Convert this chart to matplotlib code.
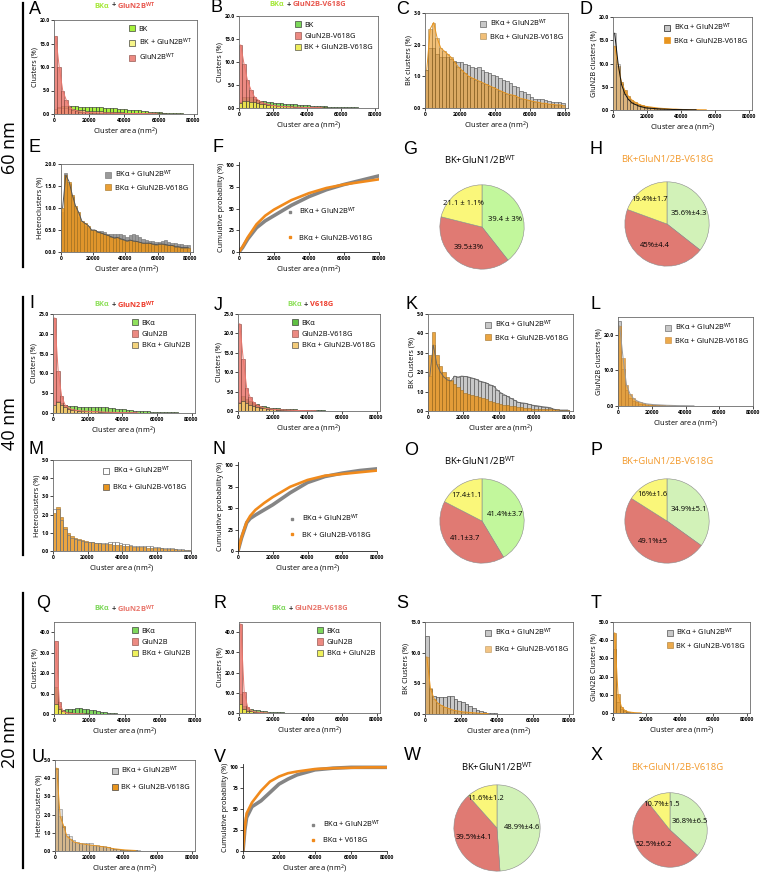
import numpy as np
import matplotlib
matplotlib.use("Agg")
import matplotlib.pyplot as plt
from matplotlib.lines import Line2D

plt.rcParams['font.family'] = ['Open Sans', 'DejaVu Sans']
plt.rcParams['mathtext.default'] = 'regular'

W, H = 763, 877

# ---------------- data (bin width 2000 nm^2, starting at 0) ----------------
edges = np.arange(0, 80000, 2000)

# 60 nm
a_bk = [0.8, 1.5, 1.8, 1.8, 1.7, 1.6, 1.6, 1.5, 1.5, 1.5, 1.5, 1.45, 1.4, 1.4, 1.3, 1.3, 1.2, 1.2, 1.1, 1.0,
        1.0, 0.9, 0.9, 0.8, 0.75, 0.7, 0.6, 0.5, 0.45, 0.4, 0.35, 0.3, 0.25, 0.2, 0.2, 0.15, 0.15, 0.1, 0.1, 0.1]
a_glun = [16.5, 10.0, 5.0, 3.0, 1.4, 0.9, 0.7, 0.5, 0.4, 0.35, 0.3, 0.3, 0.25, 0.25, 0.2, 0.2, 0.2, 0.15, 0.15,
          0.15, 0.1, 0.1, 0.1, 0.1, 0.1, 0.1, 0.08, 0.08, 0.05, 0.05]
a_het = [1.0, 1.2, 1.3, 1.2, 1.1, 1.0, 0.9, 0.8, 0.8, 0.7, 0.7, 0.6, 0.6, 0.55, 0.5, 0.5, 0.45, 0.4, 0.4, 0.35,
         0.3, 0.3, 0.3, 0.25, 0.25, 0.2, 0.2, 0.2, 0.15, 0.15, 0.12, 0.12, 0.1, 0.1, 0.08, 0.08, 0.06, 0.06, 0.05, 0.05]

b_bk = [1.2, 2.3, 2.5, 2.3, 2.0, 1.8, 1.6, 1.5, 1.3, 1.2, 1.1, 1.0, 1.0, 0.9, 0.9, 0.8, 0.8, 0.7, 0.7, 0.6,
        0.6, 0.5, 0.5, 0.45, 0.4, 0.35, 0.3, 0.3, 0.25, 0.2, 0.2, 0.18, 0.15, 0.15, 0.12, 0.1, 0.1, 0.1, 0.08, 0.08]
b_glun = [13.7, 9.5, 6.0, 4.0, 2.5, 1.8, 1.3, 1.0, 0.8, 0.6, 0.5, 0.4, 0.35, 0.3, 0.25, 0.2, 0.2, 0.15, 0.15,
          0.1, 0.1, 0.1, 0.08, 0.08, 0.05]
b_het = [1.0, 1.5, 1.6, 1.4, 1.2, 1.0, 0.9, 0.8, 0.7, 0.6, 0.6, 0.5, 0.5, 0.45, 0.4, 0.35, 0.3, 0.3, 0.25, 0.25,
         0.2, 0.2, 0.18, 0.15, 0.15, 0.12, 0.1, 0.1, 0.08, 0.08]

c_wt = [1.2, 1.9, 1.9, 1.7, 1.6, 1.6, 1.6, 1.55, 1.5, 1.45, 1.45, 1.4, 1.35, 1.3, 1.25, 1.3, 1.2, 1.15, 1.1, 1.05,
        1.0, 0.95, 0.9, 0.85, 0.8, 0.7, 0.65, 0.55, 0.5, 0.45, 0.35, 0.3, 0.3, 0.28, 0.25, 0.22, 0.2, 0.2, 0.18, 0.15]
c_mut = [1.2, 2.5, 2.7, 2.2, 1.9, 1.8, 1.7, 1.6, 1.45, 1.3, 1.2, 1.1, 1.0, 0.95, 0.9, 0.85, 0.8, 0.75, 0.7, 0.65,
         0.6, 0.55, 0.5, 0.45, 0.42, 0.4, 0.35, 0.3, 0.28, 0.25, 0.22, 0.2, 0.18, 0.15, 0.15, 0.12, 0.12, 0.1, 0.1, 0.08]

d_wt = [16.5, 10.0, 5.5, 3.5, 2.3, 1.6, 1.2, 0.9, 0.7, 0.5, 0.4, 0.35, 0.3, 0.25, 0.2, 0.18, 0.15, 0.12, 0.1, 0.1,
        0.08, 0.08, 0.06, 0.05, 0.05]
d_mut = [13.7, 9.5, 6.0, 4.2, 3.0, 2.2, 1.7, 1.3, 1.0, 0.8, 0.7, 0.6, 0.5, 0.4, 0.35, 0.3, 0.25, 0.2, 0.2, 0.15,
         0.12, 0.1, 0.1, 0.08, 0.08, 0.06, 0.05, 0.05]

e_wt = [0.9, 1.8, 1.55, 1.25, 1.0, 0.8, 0.65, 0.6, 0.55, 0.5, 0.5, 0.48, 0.47, 0.45, 0.42, 0.42, 0.4, 0.42, 0.4, 0.38,
        0.35, 0.38, 0.4, 0.38, 0.35, 0.3, 0.28, 0.25, 0.25, 0.22, 0.22, 0.25, 0.27, 0.22, 0.2, 0.2, 0.18, 0.18, 0.15, 0.15]
e_mut = [1.0, 1.75, 1.6, 1.3, 1.05, 0.9, 0.7, 0.65, 0.6, 0.5, 0.5, 0.45, 0.43, 0.4, 0.38, 0.35, 0.32, 0.33, 0.3, 0.28,
         0.25, 0.27, 0.25, 0.24, 0.22, 0.2, 0.2, 0.2, 0.18, 0.17, 0.18, 0.18, 0.17, 0.15, 0.15, 0.12, 0.12, 0.1, 0.1, 0.1]

f_x = [0, 2000, 5000, 10000, 15000, 20000, 30000, 40000, 50000, 60000, 70000, 80000]
f_wt = [0, 5, 15, 28, 36, 42, 54, 64, 72, 78, 83, 88]
f_mut = [0, 6, 17, 32, 42, 49, 60, 68, 74, 78, 81, 84]

g_vals = [39.4, 39.5, 21.1]
g_labels = ['39.4 ± 3%', '39.5±3%', '21.1 ± 1.1%']
h_vals = [35.6, 45.0, 19.4]
h_labels = ['35.6%±4.3', '45%±4.4', '19.4%±1.7']

# 40 nm
i_bk = [1.5, 3.0, 2.5, 2.0, 1.8, 1.7, 1.7, 1.6, 1.6, 1.6, 1.6, 1.5, 1.5, 1.5, 1.4, 1.4, 1.3, 1.2, 1.1, 1.0,
        0.9, 0.8, 0.7, 0.6, 0.55, 0.5, 0.45, 0.4, 0.35, 0.3, 0.3, 0.25, 0.2, 0.2, 0.15, 0.15, 0.1, 0.1, 0.1, 0.1]
i_glun = [24.0, 10.5, 4.2, 2.0, 1.3, 0.9, 0.7, 0.6, 0.5, 0.45, 0.4, 0.35, 0.3, 0.3, 0.25, 0.2, 0.2, 0.15, 0.15,
          0.1, 0.1, 0.1, 0.08, 0.08, 0.05]
i_het = [2.0, 2.8, 2.0, 1.4, 1.0, 0.8, 0.7, 0.6, 0.55, 0.5, 0.45, 0.4, 0.4, 0.35, 0.35, 0.3, 0.3, 0.25, 0.25, 0.2,
         0.2, 0.18, 0.15, 0.15, 0.12, 0.1, 0.1, 0.08, 0.08, 0.06]

j_bk = [2.3, 3.8, 3.2, 2.5, 2.0, 1.7, 1.4, 1.2, 1.0, 0.9, 0.8, 0.7, 0.6, 0.55, 0.5, 0.45, 0.4, 0.35, 0.3, 0.3,
        0.25, 0.22, 0.2, 0.18, 0.15, 0.12, 0.1, 0.1, 0.08, 0.08]
j_glun = [22.5, 13.5, 6.0, 3.5, 2.2, 1.5, 1.1, 0.8, 0.6, 0.5, 0.4, 0.35, 0.3, 0.25, 0.2, 0.18, 0.15, 0.12, 0.1,
          0.1, 0.08, 0.06, 0.05]
j_het = [2.0, 2.5, 2.0, 1.6, 1.3, 1.0, 0.8, 0.7, 0.6, 0.5, 0.4, 0.35, 0.3, 0.28, 0.25, 0.2, 0.18, 0.15, 0.12,
         0.1, 0.1, 0.08, 0.06, 0.05]

k_wt = [1.8, 3.4, 2.4, 2.0, 1.75, 1.6, 1.55, 1.8, 1.75, 1.8, 1.78, 1.75, 1.7, 1.65, 1.55, 1.5, 1.45, 1.35, 1.3, 1.1,
        0.95, 0.85, 0.75, 0.65, 0.55, 0.45, 0.42, 0.4, 0.35, 0.3, 0.28, 0.25, 0.22, 0.2, 0.18, 0.1, 0.06, 0.05, 0.05, 0.05]
k_mut = [2.9, 4.05, 2.9, 2.3, 2.0, 1.75, 1.6, 1.4, 1.25, 1.1, 0.95, 0.9, 0.85, 0.75, 0.7, 0.65, 0.6, 0.5, 0.45, 0.4,
         0.35, 0.3, 0.3, 0.25, 0.25, 0.2, 0.2, 0.18, 0.15, 0.12, 0.12, 0.1, 0.1, 0.08, 0.08, 0.08, 0.08, 0.06, 0.06, 0.06]

l_wt = [24.0, 10.5, 4.5, 2.2, 1.4, 1.0, 0.7, 0.5, 0.4, 0.3, 0.25, 0.2, 0.18, 0.15, 0.12, 0.1, 0.1, 0.08, 0.06, 0.05]
l_mut = [22.5, 13.5, 6.0, 3.5, 2.2, 1.5, 1.1, 0.8, 0.6, 0.5, 0.4, 0.35, 0.3, 0.25, 0.2, 0.18, 0.15, 0.12, 0.1,
         0.1, 0.08, 0.06, 0.05]

m_wt = [2.3, 2.3, 1.7, 1.2, 0.9, 0.7, 0.65, 0.6, 0.55, 0.5, 0.5, 0.48, 0.45, 0.45, 0.45, 0.45, 0.5, 0.5, 0.48, 0.45,
        0.4, 0.38, 0.35, 0.3, 0.28, 0.28, 0.3, 0.28, 0.25, 0.22, 0.2, 0.18, 0.18, 0.16, 0.15, 0.12, 0.12, 0.1, 0.08, 0.06]
m_mut = [2.1, 2.4, 1.85, 1.3, 1.0, 0.8, 0.7, 0.65, 0.6, 0.55, 0.52, 0.48, 0.45, 0.42, 0.4, 0.38, 0.38, 0.35, 0.33,
         0.32, 0.3, 0.28, 0.25, 0.23, 0.22, 0.2, 0.2, 0.18, 0.17, 0.16, 0.15, 0.14, 0.13, 0.12, 0.1, 0.1, 0.08, 0.08,
         0.07, 0.06]

n_x = [0, 2000, 5000, 7000, 10000, 15000, 20000, 30000, 40000, 50000, 60000, 70000, 80000]
n_wt = [0, 15, 33, 38, 42, 48, 54, 68, 80, 87, 91, 94, 96]
n_mut = [0, 16, 34, 41, 48, 56, 63, 75, 83, 88, 90, 92, 94]

o_vals = [41.4, 41.1, 17.4]
o_labels = ['41.4%±3.7', '41.1±3.7', '17.4±1.1']
p_vals = [34.9, 49.1, 16.0]
p_labels = ['34.9%±5.1', '49.1%±5', '16%±1.6']

# 20 nm
q_bk = [13.0, 4.0, 2.2, 2.3, 2.5, 2.6, 2.7, 2.7, 2.6, 2.4, 2.2, 1.9, 1.6, 1.2, 0.9, 0.6, 0.4, 0.3, 0.2, 0.1, 0.08, 0.05]
q_glun = [35.5, 6.0, 1.5, 0.6, 0.3, 0.2, 0.1, 0.1, 0.05]
q_het = [5.0, 2.5, 1.5, 1.0, 0.8, 0.6, 0.5, 0.4, 0.3, 0.3, 0.2, 0.2, 0.15, 0.1, 0.1, 0.05]

r_bk = [9.5, 3.5, 2.5, 2.0, 1.6, 1.3, 1.0, 0.8, 0.6, 0.5, 0.4, 0.3, 0.25, 0.2, 0.15, 0.1, 0.08, 0.05]
r_glun = [44.0, 10.5, 3.0, 1.2, 0.6, 0.4, 0.2, 0.1, 0.05]
r_het = [4.5, 2.0, 1.2, 0.8, 0.5, 0.3, 0.2, 0.15, 0.1, 0.05]

s_wt = [12.7, 4.0, 3.0, 2.8, 2.8, 2.8, 3.0, 2.9, 2.5, 2.2, 2.0, 1.6, 1.3, 1.0, 0.7, 0.5, 0.3, 0.2, 0.1, 0.1, 0.05]
s_mut = [9.3, 4.2, 2.5, 1.8, 1.4, 1.1, 0.9, 0.7, 0.55, 0.45, 0.35, 0.3, 0.25, 0.2, 0.15, 0.1, 0.1, 0.05]

t_wt = [35.0, 6.0, 2.0, 1.0, 0.5, 0.2, 0.1, 0.05]
t_mut = [44.0, 10.5, 3.5, 1.5, 0.7, 0.4, 0.2, 0.1, 0.05]

u_wt = [4.5, 2.3, 1.3, 0.95, 0.8, 0.6, 0.5, 0.45, 0.45, 0.42, 0.45, 0.35, 0.35, 0.3, 0.25, 0.2, 0.15, 0.12, 0.1,
        0.08, 0.06, 0.05, 0.04, 0.03, 0.03]
u_mut = [4.55, 1.9, 1.4, 0.8, 0.65, 0.5, 0.45, 0.4, 0.38, 0.35, 0.32, 0.3, 0.28, 0.25, 0.22, 0.2, 0.15, 0.12, 0.1,
         0.08, 0.06, 0.05, 0.04, 0.03]

v_x = [0, 1000, 2000, 5000, 10000, 15000, 20000, 25000, 30000, 40000, 50000, 60000, 70000, 80000]
v_wt = [0, 25, 40, 53, 60, 70, 80, 86, 91, 97, 99, 100, 100, 100]
v_mut = [0, 28, 45, 58, 72, 83, 89, 93, 95, 98, 99, 99.5, 100, 100]

w_vals = [48.9, 39.5, 11.6]
w_labels = ['48.9%±4.6', '39.5%±4.1', '11.6%±1.2']
x_vals = [36.8, 52.5, 10.7]
x_labels = ['36.8%±6.5', '52.5%±6.2', '10.7%±1.5']

# ---------------- colours ----------------
GRAY = '#C8C8C8'
ORANGE = '#E8951F'
RED = '#E9766C'
WT_SUP = 'GluN2B$^{WT}$'

fig = plt.figure(figsize=(W / 100, H / 100), dpi=100)


def px_axes(l, t, r, b):
    return fig.add_axes([l / W, 1 - b / H, (r - l) / W, (b - t) / H])


def style(ax, ylabel, yticks, ylim, fmt='%.1f', box=True, ylabels=None, xmax=82000):
    ax.set_xlim(0, xmax)
    ax.set_ylim(*ylim)
    ax.set_xticks([0, 20000, 40000, 60000, 80000])
    ax.set_yticks(yticks)
    if ylabels is None:
        ylabels = [fmt % v for v in yticks]
    ax.set_yticklabels(ylabels)
    ax.tick_params(labelsize=3.7, length=2, width=0.5, pad=1)
    for lab in ax.get_xticklabels() + ax.get_yticklabels():
        lab.set_fontweight('bold')
    ax.set_xlabel('Cluster area (nm$^2$)', fontsize=5.4, labelpad=1.5)
    ax.set_ylabel(ylabel, fontsize=5.2, labelpad=1)
    for s in ax.spines.values():
        s.set_linewidth(0.6)
        s.set_color('#6a6a6a')
    if not box:
        ax.spines['top'].set_visible(False)
        ax.spines['right'].set_visible(False)
        for s in ('left', 'bottom'):
            ax.spines[s].set_color('#222222')


def bars(ax, vals, color, label, alpha=1.0, edge='#333333', line=None, fill=True):
    ax.bar(edges[:len(vals)], vals, width=2000, align='edge',
           color=color if fill else 'none', edgecolor=edge, linewidth=0.45,
           alpha=alpha, label=label)
    if line:
        ax.plot(edges[:len(vals)] + 1000, vals, color=line, lw=0.7)


LEG = dict(frameon=False, fontsize=5.3, handlelength=0.8, handleheight=0.9,
           handletextpad=0.5, borderaxespad=0.3)


def legend(ax, **kw):
    ax.legend(loc='upper right', **LEG, **kw)


def cum_panel(ax, xs, wt, mut, lab_wt, lab_mut, anchor, spacing):
    ax.plot(xs, wt, color='#858585', lw=2.6, solid_capstyle='round')
    ax.plot(xs, mut, color='#F08A1C', lw=1.9, solid_capstyle='round')
    style(ax, 'Cumulative probability (%)', [0, 25, 50, 75, 100], (0, 104), fmt='%d', box=False, xmax=80000)
    h = [Line2D([], [], ls='', marker='s', ms=2, color='#858585'),
         Line2D([], [], ls='', marker='s', ms=2, color='#F08A1C')]
    ax.legend(h, [lab_wt, lab_mut], loc='lower right', bbox_to_anchor=anchor, frameon=False,
              fontsize=5.3, handletextpad=0.3, labelspacing=spacing)


def pie_panel(cx, cy, r, vals, labels, colors):
    ax = px_axes(cx - r, cy - r, cx + r, cy + r)
    wedges, _ = ax.pie(vals, colors=colors, startangle=90, counterclock=False,
                       wedgeprops=dict(edgecolor='#8a8a8a', linewidth=0.4))
    for w, lab, v in zip(wedges, labels, vals):
        ang = np.deg2rad((w.theta1 + w.theta2) / 2)
        rr = 0.72 if v < 25 else 0.58
        ax.text(rr * np.cos(ang), rr * np.sin(ang), lab, ha='center', va='center', fontsize=5.5)
    ax.set_xlim(-1.02, 1.02)
    ax.set_ylim(-1.02, 1.02)
    return ax


renderer = fig.canvas.get_renderer()


def multi_title(x, y, parts, size=5.4, gap=2.0):
    texts = []
    widths = []
    for s, c in parts:
        t = fig.text(0, 1 - y / H, s, color=c, fontsize=size, fontweight='bold', va='center')
        texts.append(t)
        widths.append(t.get_window_extent(renderer).width)
    total = sum(widths) + gap * (len(parts) - 1)
    pos = x - total / 2
    for t, w in zip(texts, widths):
        t.set_x(pos / W)
        pos += w + gap


def letter(x, y, s):
    fig.text(x / W, 1 - y / H, s, fontsize=13, ha='center', va='center', family='Liberation Sans')


# ---------------- row 1: 60 nm ----------------
ax = px_axes(54, 20, 197, 114)
bars(ax, a_bk, '#A6F23C', 'BK')
bars(ax, a_het, '#F6F58A', 'BK + ' + WT_SUP)
bars(ax, a_glun, RED, WT_SUP, alpha=0.85, edge='#7a3a33', line='#E9766C')
style(ax, 'Clusters (%)', [0, 5, 10, 15, 20], (0, 20))
legend(ax)
multi_title(125, 6, [('BKα', '#A6E83A'), ('+', '#333333'), (WT_SUP, '#E8584F')])

ax = px_axes(239, 16, 378, 108)
bars(ax, b_bk, '#7CD95A', 'BK')
bars(ax, b_glun, RED, 'GluN2B-V618G', alpha=0.85, edge='#7a3a33', line='#E9766C')
bars(ax, b_het, '#EDEB4A', 'BK + GluN2B-V618G', alpha=0.9)
style(ax, 'Clusters (%)', [0, 5, 10, 15, 20], (0, 20))
legend(ax)
multi_title(308, 5, [('BKα', '#A6E83A'), ('+', '#333333'), ('GluN2B-V618G', '#E8584F')])

ax = px_axes(425, 13, 568, 108)
bars(ax, c_wt, GRAY, 'BKα + ' + WT_SUP, edge='#555555')
bars(ax, c_mut, ORANGE, 'BKα + GluN2B-V618G', alpha=0.6, edge='#7a5a20', line=ORANGE)
style(ax, 'BK clusters (%)', [0, 1, 2, 3], (0, 3))
legend(ax)

ax = px_axes(613, 17, 752, 110)
bars(ax, d_mut, ORANGE, None, alpha=0.85, edge='#9a6a20', line=ORANGE)
bars(ax, d_wt, GRAY, None, alpha=0.45, edge='#222222', line='#111111')
style(ax, 'GluN2B clusters (%)', [0, 5, 10, 15, 20], (0, 20))
h = [plt.Rectangle((0, 0), 1, 1, fc=GRAY, ec='#222222', lw=0.5),
     plt.Rectangle((0, 0), 1, 1, fc=ORANGE, ec=ORANGE, lw=0.5)]
ax.legend(h, ['BKα + ' + WT_SUP, 'BKα + GluN2B-V618G'], loc='upper right', **LEG)

ax = px_axes(61, 164, 193, 252)
bars(ax, e_wt, '#9A9A9A', 'BKα + ' + WT_SUP, edge='#777777')
bars(ax, e_mut, ORANGE, 'BKα + GluN2B-V618G', alpha=0.9, edge='#a07020', line='#555555')
style(ax, 'Heteroclusters (%)', [0, 0.5, 1.0, 1.5, 2.0], (0, 2.0),
      ylabels=['0.0.0', '0.5.0', '1.0.0', '1.5.0', '2.0.0'])
legend(ax)

ax = px_axes(239, 162, 379, 252)
cum_panel(ax, f_x, f_wt, f_mut, 'BKα + ' + WT_SUP, 'BKα + GluN2B-V618G', (1.0, 0.04), 2.4)

pie_panel(482, 227, 43, g_vals, g_labels, ['#C2F79C', '#E07A73', '#FAF77A'])
fig.text(480 / W, 1 - 160 / H, 'BK+GluN1/2B$^{WT}$', fontsize=6.8, ha='center', va='center')
pie_panel(667, 224, 43, h_vals, h_labels, ['#D2F2B8', '#E07A73', '#FAF77A'])
fig.text(667 / W, 1 - 160 / H, 'BK+GluN1/2B-V618G', fontsize=6.8, ha='center', va='center', color='#F39A2D')

# ---------------- row 2: 40 nm ----------------
ax = px_axes(53, 314, 195, 413)
bars(ax, i_bk, '#8FE05C', 'BKα')
bars(ax, i_glun, RED, 'GluN2B', alpha=0.85, edge='#7a3a33', line='#E9766C')
bars(ax, i_het, '#F2CF6E', 'BKα + GluN2B', alpha=0.9)
style(ax, 'Clusters (%)', [0, 5, 10, 15, 20, 25], (0, 25))
legend(ax)
multi_title(125, 305, [('BKα', '#8FE05C'), ('+', '#333333'), (WT_SUP, '#EE3B2B')])

ax = px_axes(238, 314, 380, 411)
bars(ax, j_bk, '#5FC043', 'BKα')
bars(ax, j_glun, RED, 'GluN2B-V618G', alpha=0.85, edge='#7a3a33', line='#E9766C')
bars(ax, j_het, '#F2C66A', 'BKα + GluN2B-V618G', alpha=0.9)
style(ax, 'Clusters (%)', [0, 5, 10, 15, 20, 25], (0, 25))
legend(ax)
multi_title(310, 305, [('BKα', '#8FE05C'), ('+', '#333333'), ('V618G', '#EE3B2B')])

ax = px_axes(428, 314, 573, 411)
bars(ax, k_wt, GRAY, 'BKα + ' + WT_SUP, edge='#555555')
bars(ax, k_mut, ORANGE, 'BKα + GluN2B-V618G', alpha=0.85, edge='#9a6a20')
ax.plot(edges + 1000, k_wt, color='#666666', lw=0.6)
style(ax, 'BK Clusters (%)', [0, 1, 2, 3, 4, 5], (0, 5))
legend(ax)

ax = px_axes(618, 317, 753, 406)
bars(ax, l_wt, GRAY, 'BKα + ' + WT_SUP, edge='#666666')
bars(ax, l_mut, ORANGE, 'BKα + GluN2B-V618G', alpha=0.8, edge='#c08030', line='#999999')
style(ax, 'GluN2B clusters (%)', [0, 10, 20], (0, 25), xmax=80000)
legend(ax)

ax = px_axes(53, 460, 191, 551)
bars(ax, m_mut, ORANGE, None, alpha=0.85, edge='#9a6a20')
bars(ax, m_wt, GRAY, None, edge='#777777', fill=False)
style(ax, 'Heteroclusters (%)', [0, 1, 2, 3, 4, 5], (0, 5), xmax=80000)
h = [plt.Rectangle((0, 0), 1, 1, fc='white', ec='#555555', lw=0.5),
     plt.Rectangle((0, 0), 1, 1, fc=ORANGE, ec='#555555', lw=0.5)]
ax.legend(h, ['BKα + ' + WT_SUP, 'BKα + GluN2B-V618G'], loc='upper right', labelspacing=1.0, **LEG)

ax = px_axes(238, 462, 377, 551)
cum_panel(ax, n_x, n_wt, n_mut, 'BKα + ' + WT_SUP, 'BK + GluN2B-V618G', (1.0, 0.06), 1.1)

pie_panel(482, 521, 43, o_vals, o_labels, ['#C2F79C', '#E07A73', '#FAF77A'])
fig.text(480 / W, 1 - 461 / H, 'BK+GluN1/2B$^{WT}$', fontsize=6.8, ha='center', va='center')
pie_panel(667, 521, 43, p_vals, p_labels, ['#D2F2B8', '#E07A73', '#FAF77A'])
fig.text(667 / W, 1 - 461 / H, 'BK+GluN1/2B-V618G', fontsize=6.8, ha='center', va='center', color='#F39A2D')

# ---------------- row 3: 20 nm ----------------
ax = px_axes(54, 622, 195, 714)
bars(ax, q_bk, '#7FD85C', 'BKα')
bars(ax, q_glun, RED, 'GluN2B', alpha=0.85, edge='#7a3a33', line='#E9766C')
bars(ax, q_het, '#EEF04A', 'BKα + GluN2B', alpha=0.9)
style(ax, 'Clusters (%)', [0, 10, 20, 30, 40], (0, 45), xmax=80000)
legend(ax)
multi_title(125, 609, [('BKα', '#7FD85C'), ('+', '#333333'), (WT_SUP, '#E9766C')])

ax = px_axes(239, 622, 380, 713)
bars(ax, r_bk, '#7FD85C', 'BKα')
bars(ax, r_glun, RED, 'GluN2B', alpha=0.85, edge='#7a3a33', line='#E9766C')
bars(ax, r_het, '#EEF04A', 'BKα + GluN2B', alpha=0.9)
style(ax, 'Clusters (%)', [0, 10, 20, 30, 40], (0, 45))
legend(ax)
multi_title(310, 609, [('BKα', '#7FD85C'), ('+', '#333333'), ('GluN2B-V618G', '#E9766C')])

ax = px_axes(425, 622, 573, 714)
bars(ax, s_wt, GRAY, 'BKα + ' + WT_SUP, edge='#444444')
bars(ax, s_mut, ORANGE, 'BKα + GluN2B-V618G', alpha=0.55, edge='#9a6a20', line=ORANGE)
style(ax, 'BK Clusters (%)', [0, 5, 10, 15], (0, 15))
legend(ax, labelspacing=1.0)

ax = px_axes(613, 622, 750, 713)
bars(ax, t_wt, GRAY, 'BKα + ' + WT_SUP, edge='#444444')
bars(ax, t_mut, ORANGE, 'BK + GluN2B-V618G', alpha=0.8, edge='#9a6a20', line=ORANGE)
style(ax, 'GluN2B Clusters (%)', [0, 10, 20, 30, 40, 50], (0, 50))
legend(ax)

ax = px_axes(55, 760, 195, 851)
bars(ax, u_mut, ORANGE, None, alpha=0.9, edge='#9a6a20', line=ORANGE)
bars(ax, u_wt, GRAY, None, edge='#555555', alpha=0.6)
style(ax, 'Heteroclusters (%)', [0, 1, 2, 3, 4, 5], (0, 5))
h = [plt.Rectangle((0, 0), 1, 1, fc=GRAY, ec='#444444', lw=0.5),
     plt.Rectangle((0, 0), 1, 1, fc=ORANGE, ec='#444444', lw=0.5)]
ax.legend(h, ['BKα + ' + WT_SUP, 'BK + GluN2B-V618G'], loc='upper right', labelspacing=1.0, **LEG)

ax = px_axes(243, 764, 387, 851)
cum_panel(ax, v_x, v_wt, v_mut, 'BKα + ' + WT_SUP, 'BKα + V618G', (1.0, 0.0), 1.0)

pie_panel(497, 828, 44, w_vals, w_labels, ['#D2F2B8', '#E07A73', '#FAF77A'])
fig.text(497 / W, 1 - 767 / H, 'BK+GluN1/2B$^{WT}$', fontsize=6.8, ha='center', va='center')
pie_panel(670, 830, 38, x_vals, x_labels, ['#D2F2B8', '#E07A73', '#FAF77A'])
fig.text(677 / W, 1 - 767 / H, 'BK+GluN1/2B-V618G', fontsize=6.8, ha='center', va='center', color='#F39A2D')

# ---------------- panel letters ----------------
for (x, y, s) in [(35, 10, 'A'), (217, 8, 'B'), (403, 9, 'C'), (586, 9, 'D'),
                  (34, 148, 'E'), (218, 148, 'F'), (410, 149, 'G'), (596, 149, 'H'),
                  (32, 303, 'I'), (218, 305, 'J'), (411, 304, 'K'), (596, 304, 'L'),
                  (36, 449, 'M'), (219, 449, 'N'), (411, 450, 'O'), (596, 450, 'P'),
                  (43, 604, 'Q'), (220, 604, 'R'), (402, 604, 'S'), (596, 604, 'T'),
                  (38, 758, 'U'), (220, 758, 'V'), (412, 755, 'W'), (597, 755, 'X')]:
    letter(x, y, s)

# ---------------- scale brackets ----------------
for (y0, y1, yc, lab) in [(3, 267, 148, '60 nm'), (297, 555, 424, '40 nm'), (593, 868, 742, '20 nm')]:
    fig.add_artist(Line2D([23 / W, 23 / W], [1 - y0 / H, 1 - y1 / H], color='black', lw=1.6))
    fig.text(10 / W, 1 - yc / H, lab, fontsize=13, rotation=90, ha='center', va='center')

fig.savefig('out.png', dpi=100)
